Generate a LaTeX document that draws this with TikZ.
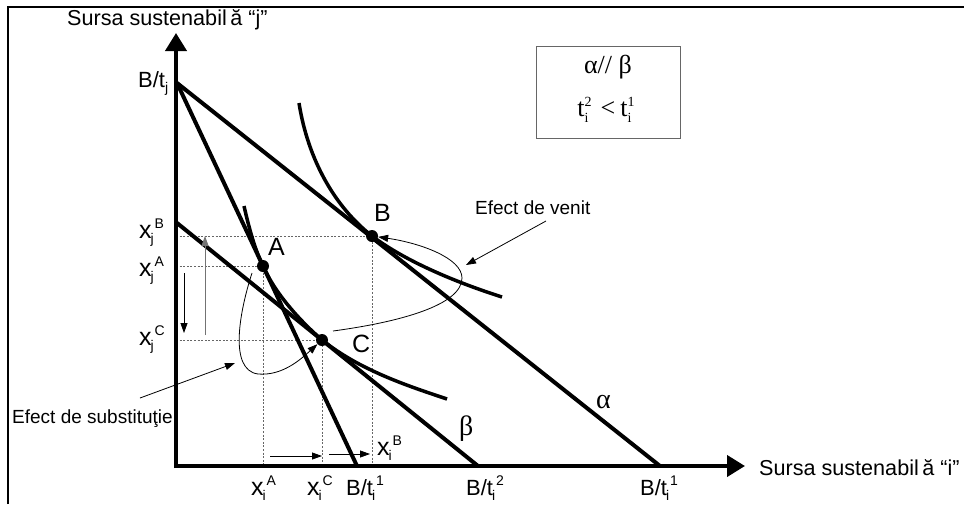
\documentclass[tikz,border=0pt]{standalone}
\usepackage{fontspec}
\setmainfont{Liberation Sans}
\newfontfamily\tnr{Liberation Serif}
\usetikzlibrary{arrows.meta}
\newcommand{\lbl}[3]{#1\rlap{\raisebox{-5pt}{\kern-1pt\fontsize{14}{14}\selectfont #2}}\raisebox{10pt}{\kern3pt\fontsize{14}{14}\selectfont #3}}
\newcommand{\tlbl}[3]{#1\rlap{\raisebox{-6pt}{\fontsize{14}{14}\selectfont #2}}\raisebox{10pt}{\fontsize{14}{14}\selectfont #3}}
\begin{document}
\begin{tikzpicture}[x=1pt,y=-1pt,
  budget/.style={line width=4pt},
  indiff/.style={line width=3.5pt},
  axisline/.style={line width=4pt,-{Triangle[length=18pt,width=21pt]}},
  guide/.style={black!60, line width=0.9pt, dash pattern=on 2pt off 1.6pt},
  thinarrow/.style={line width=0.8pt,-{Triangle[length=10pt,width=7pt]}},
  loop/.style={line width=0.8pt,-{Triangle[length=10pt,width=7pt]}},
  dot/.style={circle,fill=black,inner sep=0pt,minimum size=12pt},
  lab/.style={inner sep=0pt,anchor=base west,font=\fontsize{22}{22}\selectfont},
  xlab/.style={inner sep=0pt,anchor=base west,font=\fontsize{25}{25}\selectfont},
  ptlab/.style={inner sep=0pt,anchor=base west,font=\fontsize{25}{25}\selectfont},
  axtitle/.style={inner sep=0pt,anchor=base west,font=\fontsize{21.6}{22}\selectfont},
  efflab/.style={inner sep=0pt,anchor=base west,font=\fontsize{19}{19}\selectfont},
  greek/.style={inner sep=0pt,anchor=base west,font=\tnr\fontsize{28}{28}\selectfont}]
\useasboundingbox (0,0) rectangle (964,504);

% frame (top and left edges)
\coordinate (fbl) at (8,504);
\coordinate (ftl) at (8,7);
\coordinate (ftr) at (964,7);
\draw[line width=2.5pt] (fbl) -- (ftl) -- (ftr);

% key points
\coordinate (O) at (176,466);
\coordinate (Ocorner) at (176,468);
\coordinate (Ytop) at (176,33);
\coordinate (Xend) at (745,466);
\coordinate (Btj) at (177,83);
\coordinate (Bti1a) at (357,466);
\coordinate (Bti1b) at (660,466);
\coordinate (Bti2) at (478,466);
\coordinate (betaStart) at (177,223);
\coordinate (pA) at (263,266);
\coordinate (pB) at (372,236);
\coordinate (pC) at (322,340);
\coordinate (yA) at (176,266);
\coordinate (yB) at (176,236);
\coordinate (yC) at (176,340);
\coordinate (xA) at (263,466);
\coordinate (xB) at (372,466);
\coordinate (xC) at (322,466);

% guide lines
\draw[guide] (yB) -- (pB) -- (xB);
\draw[guide] (yA) -- (pA) -- (xA);
\draw[guide] (yC) -- (pC) -- (xC);

% budget lines
\draw[budget] (Btj) -- (Bti1b);
\draw[budget] (Btj) -- (Bti1a);
\draw[budget] (betaStart) -- (Bti2);

% indifference curves
\coordinate (u1s) at (244,206);
\coordinate (u1e) at (447,399);
\draw[indiff] (u1s) .. controls (249,228) and (255,250) .. (pA)
  .. controls (275,293) and (299,320) .. (pC)
  .. controls (360,370) and (405,385) .. (u1e);
\coordinate (u2s) at (299,103);
\coordinate (u2e) at (502,297);
\draw[indiff] (u2s) .. controls (308,160) and (335,207) .. (pB)
  .. controls (405,261) and (455,282) .. (u2e);

% axes
\draw[axisline] (Ocorner) -- (Ytop);
\draw[axisline] (O) -- (Xend);

% dots
\node[dot] (A) at (pA) {};
\node[dot] (B) at (pB) {};
\node[dot] (C) at (pC) {};

% arrows along the axes
\coordinate (upS) at (205,335);
\coordinate (upE) at (205,236);
\draw[thinarrow,black!55] (upS) -- (upE);
\coordinate (dnS) at (184,273);
\coordinate (dnE) at (184,333);
\draw[thinarrow] (dnS) -- (dnE);
\coordinate (r1S) at (270,456);
\coordinate (r1E) at (322,456);
\draw[thinarrow] (r1S) -- (r1E);
\coordinate (r2S) at (329,454);
\coordinate (r2E) at (370,454);
\draw[thinarrow] (r2S) -- (r2E);

% effect loops
\coordinate (subS) at (252,273);
\draw[loop] (subS) .. controls (240,310) and (228,370) .. (258,374)
  .. controls (282,376) and (300,360) .. (C);
\coordinate (incS) at (333,331);
\draw[loop] (incS) .. controls (400,322) and (462,305) .. (462,278)
  .. controls (462,258) and (420,243) .. (B);

% box
\node[draw=black!60,line width=0.8pt,minimum width=144pt,minimum height=92pt,inner sep=0pt] (box) at (608,92) {};
\node[inner sep=0pt,font=\tnr\fontsize{26}{26}\selectfont,anchor=base] (boxl1) at (608,73) {α// β};
\node[inner sep=0pt,font=\tnr\fontsize{26}{26}\selectfont,anchor=base] (boxl2) at (606,116) {\tlbl{t}{i}{2}\kern9pt<\kern5pt\tlbl{t}{i}{1}};

% axis titles
\node[axtitle] (ytitle) at (67,25) {Sursa sustenabil\,ă “j”};
\node[axtitle] (xtitle) at (759,475) {Sursa sustenabil\,ă “i”};

% axis labels
\node[lab] (lBtj) at (138,87) {B/t\raisebox{-5pt}{\fontsize{14}{14}\selectfont j}};
\node[xlab] (lxjB) at (139,238) {\lbl{x}{j}{B}};
\node[xlab] (lxjA) at (139,276) {\lbl{x}{j}{A}};
\node[xlab] (lxjC) at (139,345) {\lbl{x}{j}{C}};
\node[xlab] (lxiA) at (251,495) {\lbl{x}{i}{A}};
\node[xlab] (lxiC) at (307,495) {\lbl{x}{i}{C}};
\node[lab] (lBti1a) at (346,495) {\lbl{B/t}{i}{1}};
\node[xlab] (lxiB) at (377,455) {\lbl{x}{i}{B}};
\node[lab] (lBti2) at (466,495) {\lbl{B/t}{i}{2}};
\node[lab] (lBti1b) at (640,495) {\lbl{B/t}{i}{1}};

% point labels
\node[ptlab] (lA) at (268,255) {A};
\node[ptlab] (lB) at (374,221) {B};
\node[ptlab] (lC) at (352,352) {C};
\node[greek] (lalpha) at (596,408) {α};
\node[greek] (lbeta) at (459,435) {β};

% effect labels with arrows
\node[efflab] (venit) at (475,214) {Efect de venit};
\coordinate (venS) at (546,221);
\coordinate (venE) at (466,265);
\draw[thinarrow] (venS) -- (venE);
\node[efflab] (subst) at (12,423) {Efect de substituţie};
\coordinate (subAS) at (140,398);
\coordinate (subAE) at (235,363);
\draw[thinarrow] (subAS) -- (subAE);
\end{tikzpicture}
\end{document}
